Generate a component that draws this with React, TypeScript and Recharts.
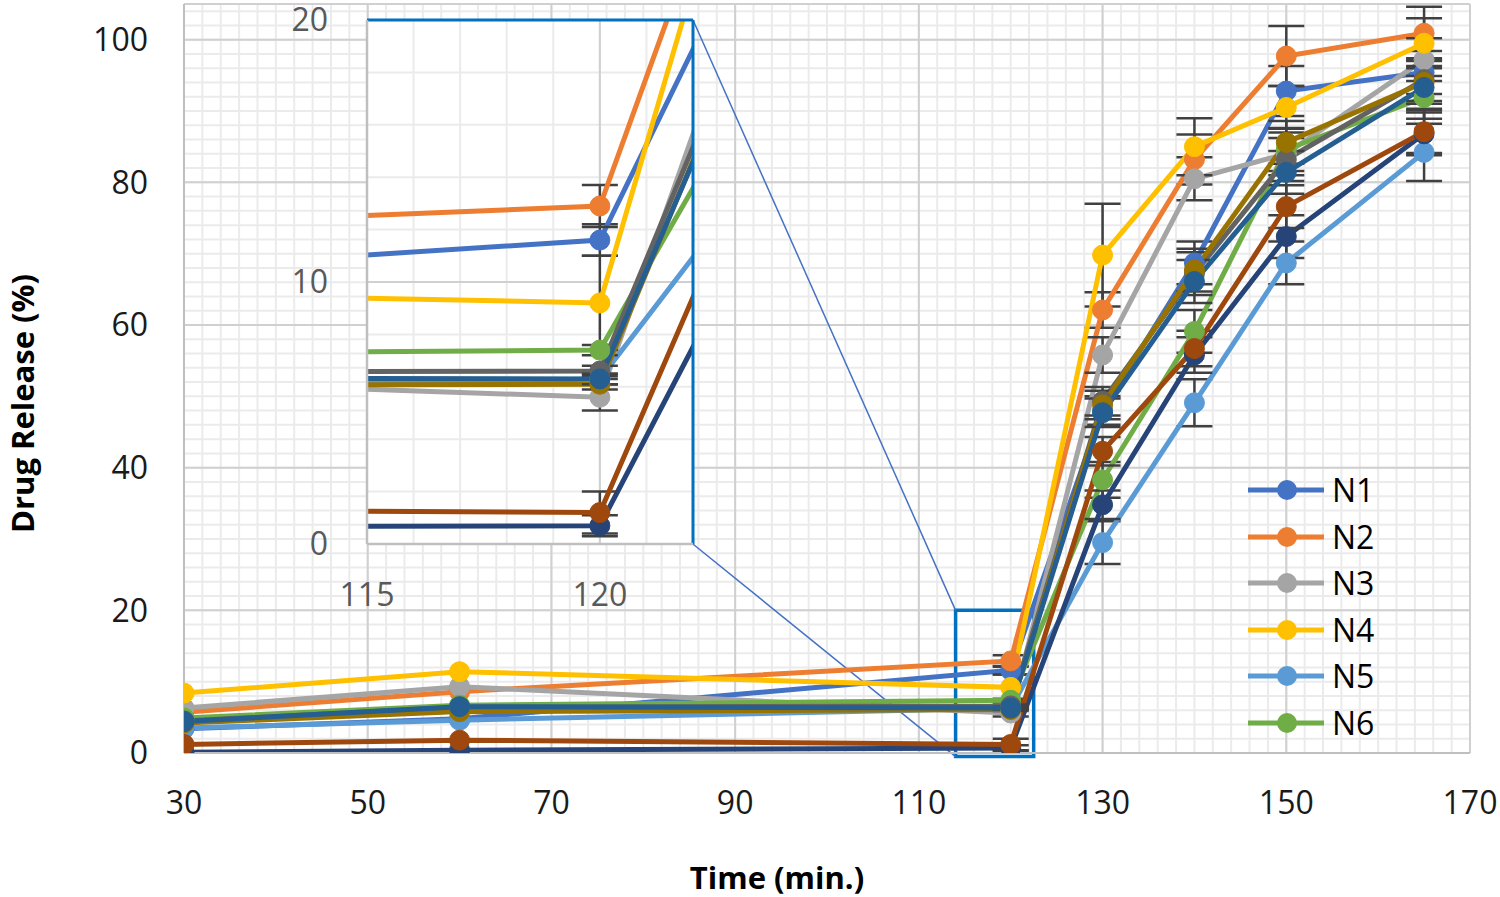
import React from "react";
import {
  LineChart,
  Line,
  XAxis,
  YAxis,
  CartesianGrid,
  ErrorBar,
  Legend,
  ReferenceArea,
  ReferenceLine,
  Label,
} from "recharts";

const times = [30, 60, 120, 130, 140, 150, 165];

const seriesNames = ["N1", "N2", "N3", "N4", "N5", "N6", "N7", "N8", "N9", "N10", "N11"];
const seriesColors = [
  "#4472C4",
  "#ED7D31",
  "#A5A5A5",
  "#FFC000",
  "#5B9BD5",
  "#70AD47",
  "#264478",
  "#9E480E",
  "#636363",
  "#997300",
  "#255E91",
];
const legendNames = ["N1", "N2", "N3", "N4", "N5", "N6"];

// drug release (%) per time point
const n1 = [3.4, 4.8, 11.6, 48.0, 68.7, 92.8, 95.4];
const n2 = [5.7, 8.6, 12.9, 62.1, 83.2, 97.7, 100.9];
const n3 = [6.3, 9.3, 5.6, 55.8, 80.5, 84.0, 97.2];
const n4 = [8.4, 11.4, 9.2, 69.8, 85.0, 90.5, 99.5];
const n5 = [3.5, 4.6, 6.3, 29.5, 49.1, 68.7, 84.2];
const n6 = [4.9, 6.7, 7.4, 38.3, 59.1, 84.6, 91.9];
const n7 = [0.1, 0.4, 0.7, 34.8, 55.8, 72.4, 86.8];
const n8 = [1.2, 1.8, 1.2, 42.3, 56.7, 76.6, 87.1];
const n9 = [4.5, 6.4, 6.6, 49.3, 67.2, 83.2, 94.4];
const n10 = [4.2, 5.8, 6.1, 48.8, 67.7, 85.6, 94.0];
const n11 = [4.4, 6.5, 6.3, 47.7, 66.1, 81.4, 93.3];

// +/- error
const n1Err = [0, 0, 0.6, 2.0, 3.0, 3.5, 3.0];
const n2Err = [0, 0, 0.8, 2.5, 3.5, 4.2, 3.7];
const n3Err = [0, 0, 0.5, 2.5, 3.0, 3.0, 3.0];
const n4Err = [0, 0, 1.8, 7.2, 4.0, 3.0, 3.5];
const n5Err = [0, 0, 0.2, 3.0, 3.3, 3.0, 4.0];
const n6Err = [0, 0, 0.2, 2.5, 3.0, 3.0, 3.0];
const n7Err = [0, 0, 0.4, 2.0, 2.5, 3.0, 3.0];
const n8Err = [0, 0, 0.8, 2.0, 2.5, 3.0, 3.0];
const n9Err = [0, 0, 0.2, 2.0, 3.0, 3.0, 3.0];
const n10Err = [0, 0, 0.2, 2.0, 3.0, 3.0, 3.0];
const n11Err = [0, 0, 0.2, 2.0, 3.0, 3.0, 3.0];

const seriesValues = [n1, n2, n3, n4, n5, n6, n7, n8, n9, n10, n11];
const seriesErrors = [n1Err, n2Err, n3Err, n4Err, n5Err, n6Err, n7Err, n8Err, n9Err, n10Err, n11Err];

const xTicks = [30, 50, 70, 90, 110, 130, 150, 170];
const yTicks = [0, 20, 40, 60, 80, 100];
const insetXTicks = [115, 120];
const insetYTicks = [0, 10, 20];

const range = (from: number, to: number, step: number) => {
  const out: number[] = [];
  for (let v = from; v <= to + 1e-9; v += step) out.push(v);
  return out;
};

const rows = times.map((t, i) => {
  const row: Record<string, number> = { time: t };
  seriesNames.forEach((name, s) => {
    row[name] = seriesValues[s][i];
    row[name + "_err"] = seriesErrors[s][i];
  });
  return row;
});

const FONT = "'Open Sans', 'Liberation Sans', sans-serif";

const XTitle = (props: any) => {
  const { viewBox } = props;
  const cx = viewBox.x + viewBox.width / 2 - 50;
  const cy = viewBox.y + 124;
  return (
    <text x={cx} y={cy} textAnchor="middle" dominantBaseline="central" fontSize={31} fontWeight="bold" fill="#000" fontFamily={FONT}>
      Time (min.)
    </text>
  );
};

const YTitle = (props: any) => {
  const { viewBox } = props;
  const cx = 22;
  const cy = viewBox.y + viewBox.height / 2 + 25;
  return (
    <text
      x={cx}
      y={cy}
      transform={`rotate(-90 ${cx} ${cy})`}
      textAnchor="middle"
      dominantBaseline="central"
      fontSize={31}
      fontWeight="bold"
      fill="#000"
      fontFamily={FONT}
    >
      Drug Release (%)
    </text>
  );
};

const renderLegend = (props: any) => {
  const items = (props.payload || []).filter((p: any) => legendNames.includes(p.value));
  return (
    <div style={{ fontFamily: FONT }}>
      {items.map((p: any) => (
        <div key={p.value} style={{ display: "flex", alignItems: "center", height: 46.5 }}>
          <svg width={80} height={24}>
            <line x1={2} y1={12} x2={78} y2={12} stroke={p.color} strokeWidth={5} />
            <circle cx={41} cy={12} r={10} fill={p.color} />
          </svg>
          <span style={{ marginLeft: 6, fontSize: 32, color: "#000", lineHeight: 1 }}>{p.value}</span>
        </div>
      ))}
    </div>
  );
};

const renderSeries = () =>
  seriesNames.map((name, s) => (
    <Line
      key={name}
      type="linear"
      dataKey={name}
      name={name}
      stroke={seriesColors[s]}
      strokeWidth={5}
      dot={{ r: 10, fill: seriesColors[s], stroke: seriesColors[s], strokeWidth: 1 }}
      activeDot={false}
      isAnimationActive={false}
    >
      <ErrorBar dataKey={name + "_err"} direction="y" width={18} stroke="#404040" strokeWidth={2.5} />
    </Line>
  ));

export default function App() {
  return (
    <div style={{ position: "absolute", left: 0, top: 0, width: 1500, height: 897, fontFamily: FONT, background: "#fff", overflow: "hidden" }}>
      <LineChart width={1500} height={897} data={rows} margin={{ top: 4, right: 30, bottom: 0, left: 0 }}>
        <CartesianGrid horizontalValues={range(0, 104, 2)} verticalValues={range(30, 170, 2)} stroke="#EBEBEB" strokeWidth={2} />
        <CartesianGrid horizontalValues={[...yTicks, 105]} verticalValues={xTicks} stroke="#D0D0D0" strokeWidth={2} />
        <XAxis
          dataKey="time"
          type="number"
          domain={[30, 170]}
          allowDataOverflow
          ticks={xTicks}
          interval={0}
          height={144}
          axisLine={{ stroke: "#BFBFBF", strokeWidth: 2 }}
          tickLine={false}
          tickSize={6}
          tickMargin={32}
          tick={{ fill: "#1a1a1a", fontSize: 32, fontFamily: FONT }}
        >
          <Label content={XTitle} />
        </XAxis>
        <YAxis
          type="number"
          domain={[0, 105]}
          allowDataOverflow
          ticks={yTicks}
          interval={0}
          width={184}
          axisLine={{ stroke: "#BFBFBF", strokeWidth: 2 }}
          tickLine={false}
          tickSize={6}
          tickMargin={30}
          tick={{ fill: "#1a1a1a", fontSize: 32, fontFamily: FONT }}
        >
          <Label content={YTitle} />
        </YAxis>
        <ReferenceLine
          segment={[{ x: 85.4, y: 102.8 }, { x: 114, y: 20 }]}
          stroke="#4472C4"
          strokeWidth={1.5}
          ifOverflow="visible"
        />
        <ReferenceLine
          segment={[{ x: 85.4, y: 29.3 }, { x: 114, y: -0.5 }]}
          stroke="#4472C4"
          strokeWidth={1.5}
          ifOverflow="visible"
        />
        <ReferenceArea x1={114} x2={122.5} y1={-0.5} y2={20} fill="none" stroke="#0070C0" strokeWidth={3.5} ifOverflow="visible" />
        {renderSeries()}
        <Legend
          content={renderLegend}
          layout="vertical"
          align="center"
          verticalAlign="middle"
          wrapperStyle={{ left: 1246, top: 467, width: 220, height: "auto" }}
        />
      </LineChart>

      <div style={{ position: "absolute", left: 0, top: 0 }}>
        <LineChart width={720} height={620} data={rows} margin={{ top: 20, right: 27, bottom: 0, left: 0 }}>
          <CartesianGrid fill="#fff" horizontalValues={range(0, 20, 2)} verticalValues={range(115, 122, 1)} stroke="#EBEBEB" strokeWidth={2} />
          <CartesianGrid horizontalValues={insetYTicks} verticalValues={insetXTicks} stroke="#D0D0D0" strokeWidth={2} />
          <XAxis
            dataKey="time"
            type="number"
            domain={[115, 122]}
            allowDataOverflow
            ticks={insetXTicks}
            interval={0}
            height={76}
            axisLine={{ stroke: "#BFBFBF", strokeWidth: 2.5 }}
            tickLine={false}
            tickSize={6}
            tickMargin={33}
            tick={{ fill: "#595959", fontSize: 32, fontFamily: FONT }}
          />
          <YAxis
            type="number"
            domain={[0, 20]}
            allowDataOverflow
            ticks={insetYTicks}
            interval={0}
            width={367}
            axisLine={{ stroke: "#BFBFBF", strokeWidth: 2.5 }}
            tickLine={false}
            tickSize={6}
            tickMargin={33}
            tick={{ fill: "#595959", fontSize: 32, fontFamily: FONT }}
          />
          {renderSeries()}
          <ReferenceLine y={20} stroke="#0070C0" strokeWidth={3} ifOverflow="visible" />
          <ReferenceLine x={122} stroke="#0070C0" strokeWidth={3} ifOverflow="visible" />
        </LineChart>
      </div>
    </div>
  );
}
